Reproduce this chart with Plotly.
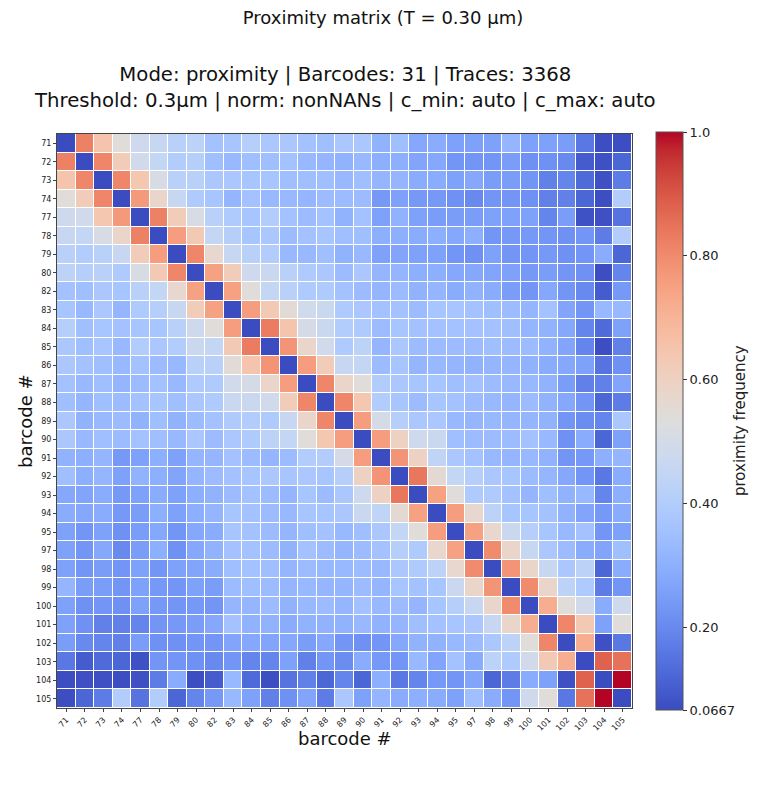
import numpy as np
import plotly.graph_objects as go

barcodes = [71, 72, 73, 74, 77, 78, 79, 80, 82, 83, 84, 85, 86, 87, 88, 89, 90,
            91, 92, 93, 94, 95, 97, 98, 99, 100, 101, 102, 103, 104, 105]
labels = [str(b) for b in barcodes]

diag_value = 0.0667

# lower triangle of the symmetric proximity matrix (row i, columns 0..i-1)
lower_rows = [
    [0.82],
    [0.65, 0.81],
    [0.54, 0.62, 0.81],
    [0.48, 0.49, 0.64, 0.77],
    [0.46, 0.45, 0.51, 0.58, 0.82],
    [0.42, 0.40, 0.42, 0.46, 0.62, 0.76],
    [0.43, 0.41, 0.42, 0.39, 0.51, 0.63, 0.81],
    [0.36, 0.35, 0.38, 0.37, 0.42, 0.45, 0.57, 0.75],
    [0.37, 0.33, 0.38, 0.32, 0.39, 0.41, 0.46, 0.62, 0.75],
    [0.41, 0.35, 0.37, 0.36, 0.37, 0.37, 0.42, 0.48, 0.54, 0.76],
    [0.38, 0.35, 0.37, 0.33, 0.40, 0.38, 0.40, 0.47, 0.45, 0.63, 0.83],
    [0.38, 0.36, 0.35, 0.33, 0.36, 0.34, 0.33, 0.42, 0.42, 0.55, 0.65, 0.78],
    [0.36, 0.33, 0.35, 0.32, 0.34, 0.36, 0.33, 0.39, 0.39, 0.49, 0.50, 0.58, 0.76],
    [0.35, 0.32, 0.35, 0.34, 0.36, 0.37, 0.35, 0.38, 0.39, 0.47, 0.47, 0.49, 0.62, 0.81],
    [0.38, 0.31, 0.33, 0.34, 0.31, 0.35, 0.31, 0.34, 0.36, 0.39, 0.40, 0.39, 0.46, 0.58, 0.81],
    [0.38, 0.33, 0.35, 0.34, 0.36, 0.35, 0.33, 0.38, 0.34, 0.38, 0.39, 0.43, 0.45, 0.54, 0.64, 0.76],
    [0.31, 0.30, 0.32, 0.24, 0.26, 0.30, 0.26, 0.32, 0.32, 0.36, 0.34, 0.32, 0.34, 0.40, 0.40, 0.50, 0.76],
    [0.35, 0.30, 0.32, 0.26, 0.31, 0.30, 0.27, 0.32, 0.34, 0.36, 0.37, 0.38, 0.37, 0.38, 0.37, 0.41, 0.60, 0.78],
    [0.28, 0.27, 0.29, 0.24, 0.26, 0.29, 0.26, 0.30, 0.31, 0.34, 0.36, 0.34, 0.32, 0.37, 0.34, 0.38, 0.48, 0.60, 0.84],
    [0.29, 0.28, 0.29, 0.24, 0.25, 0.30, 0.26, 0.30, 0.32, 0.37, 0.36, 0.34, 0.33, 0.37, 0.37, 0.38, 0.47, 0.44, 0.56, 0.75],
    [0.26, 0.23, 0.26, 0.22, 0.25, 0.28, 0.23, 0.28, 0.29, 0.37, 0.36, 0.34, 0.32, 0.35, 0.36, 0.33, 0.35, 0.38, 0.45, 0.54, 0.76],
    [0.26, 0.23, 0.28, 0.20, 0.25, 0.30, 0.22, 0.28, 0.31, 0.36, 0.36, 0.34, 0.31, 0.36, 0.34, 0.32, 0.34, 0.36, 0.41, 0.39, 0.57, 0.75],
    [0.26, 0.23, 0.25, 0.23, 0.26, 0.23, 0.26, 0.27, 0.29, 0.35, 0.36, 0.35, 0.32, 0.34, 0.33, 0.33, 0.34, 0.33, 0.38, 0.39, 0.43, 0.57, 0.80],
    [0.32, 0.25, 0.25, 0.23, 0.26, 0.24, 0.23, 0.26, 0.25, 0.34, 0.35, 0.34, 0.32, 0.33, 0.32, 0.32, 0.34, 0.32, 0.37, 0.36, 0.37, 0.47, 0.58, 0.78],
    [0.26, 0.22, 0.23, 0.22, 0.26, 0.24, 0.23, 0.24, 0.23, 0.32, 0.32, 0.34, 0.31, 0.33, 0.34, 0.32, 0.36, 0.33, 0.34, 0.32, 0.37, 0.41, 0.46, 0.58, 0.80],
    [0.26, 0.22, 0.18, 0.18, 0.19, 0.23, 0.24, 0.25, 0.28, 0.36, 0.31, 0.31, 0.29, 0.31, 0.31, 0.31, 0.33, 0.31, 0.32, 0.35, 0.36, 0.37, 0.38, 0.46, 0.58, 0.72],
    [0.25, 0.20, 0.19, 0.18, 0.25, 0.22, 0.22, 0.23, 0.23, 0.27, 0.28, 0.27, 0.28, 0.25, 0.28, 0.23, 0.22, 0.23, 0.28, 0.31, 0.31, 0.33, 0.34, 0.38, 0.43, 0.54, 0.81],
    [0.16, 0.10, 0.13, 0.12, 0.08, 0.23, 0.23, 0.22, 0.20, 0.23, 0.19, 0.19, 0.26, 0.18, 0.23, 0.21, 0.29, 0.24, 0.23, 0.33, 0.27, 0.36, 0.29, 0.43, 0.39, 0.49, 0.63, 0.72],
    [0.07, 0.075, 0.075, 0.07, 0.075, 0.17, 0.29, 0.07, 0.10, 0.33, 0.13, 0.07, 0.15, 0.18, 0.12, 0.19, 0.12, 0.30, 0.16, 0.19, 0.24, 0.23, 0.27, 0.12, 0.17, 0.29, 0.26, 0.075, 0.88],
    [0.07, 0.12, 0.17, 0.40, 0.15, 0.40, 0.12, 0.19, 0.24, 0.33, 0.26, 0.18, 0.22, 0.27, 0.17, 0.38, 0.26, 0.32, 0.29, 0.30, 0.29, 0.26, 0.35, 0.29, 0.23, 0.48, 0.54, 0.16, 0.85, 1.0],
]

c_min = 0.0667
c_max = 1.0
cbar_tickvals = [0.0667, 0.2, 0.4, 0.6, 0.8, 1.0]
cbar_ticktext = ["0.0667", "0.20", "0.40", "0.60", "0.80", "1.0"]

n = len(barcodes)
M = np.full((n, n), diag_value)
for i, row in enumerate(lower_rows, start=1):
    for j, v in enumerate(row):
        M[i, j] = v
        M[j, i] = v

cw = [(59, 76, 192), (68, 90, 204), (77, 104, 215), (87, 117, 225), (98, 130, 234),
      (108, 142, 241), (119, 154, 247), (130, 165, 251), (141, 176, 254), (152, 185, 255),
      (163, 194, 255), (174, 201, 253), (184, 208, 249), (194, 213, 244), (204, 217, 238),
      (213, 219, 230), (221, 221, 221), (229, 216, 209), (236, 211, 197), (241, 204, 185),
      (245, 196, 173), (247, 187, 160), (247, 177, 148), (247, 166, 135), (244, 154, 123),
      (241, 141, 111), (236, 127, 99), (229, 112, 88), (222, 96, 77), (213, 80, 66),
      (203, 62, 56), (192, 40, 47), (180, 4, 38)]
colorscale = [[k / (len(cw) - 1), "rgb(%d,%d,%d)" % c] for k, c in enumerate(cw)]

FONT = "DejaVu Sans"

fig = go.Figure(go.Heatmap(
    z=M, x=labels, y=labels,
    colorscale=colorscale, zmin=c_min, zmax=c_max,
    xgap=1, ygap=1,
    colorbar=dict(
        x=(656 - 57) / 575, xanchor="left", y=0.5, yanchor="middle",
        xpad=0, ypad=0,
        thickness=27, lenmode="pixels", len=578,
        outlinewidth=1, outlinecolor="#555",
        tickvals=cbar_tickvals, ticktext=cbar_ticktext,
        ticks="outside", ticklen=4, tickcolor="#333",
        tickfont=dict(family=FONT, size=13, color="#222"),
    ),
))

fig.update_layout(
    width=766, height=790,
    margin=dict(l=57, r=134, t=134, b=82, autoexpand=False),
    paper_bgcolor="white", plot_bgcolor="white",
    font=dict(family=FONT, color="#222"),
    title=dict(text="Proximity matrix (T = 0.30 µm)", x=0.5, xanchor="center",
               y=1 - 18 / 790, yanchor="middle", font=dict(family=FONT, size=18, color="#111")),
    showlegend=False,
    annotations=[
        dict(text="Mode: proximity | Barcodes: 31 | Traces: 3368<br>Threshold: 0.3µm | norm: nonNANs | c_min: auto | c_max: auto",
             x=0.5, y=1, xref="paper", yref="paper", xanchor="center", yanchor="bottom",
             yshift=20, showarrow=False, align="center",
             font=dict(family=FONT, size=19.7, color="#111")),
        dict(text="barcode #", x=0.5, y=0, xref="paper", yref="paper", xanchor="center",
             yanchor="middle", yshift=-30, showarrow=False,
             font=dict(family=FONT, size=18, color="#111")),
        dict(text="barcode #", x=0, y=0.5, xref="paper", yref="paper", xanchor="center",
             yanchor="middle", xshift=-32, textangle=-90, showarrow=False,
             font=dict(family=FONT, size=18, color="#111")),
        dict(text="proximity frequency", x=(740 - 57) / 575, y=0.5, xref="paper", yref="paper",
             xanchor="center", yanchor="middle", textangle=-90, showarrow=False,
             font=dict(family=FONT, size=15, color="#222")),
    ],
)

fig.update_xaxes(type="category", showline=True, mirror=True, linecolor="#444", linewidth=1,
                 ticks="outside", ticklen=3, tickcolor="#444", tickangle=-45,
                 tickfont=dict(family=FONT, size=8, color="#222"), showgrid=False, zeroline=False)
fig.update_yaxes(type="category", autorange="reversed", showline=True, mirror=True, linecolor="#444",
                 linewidth=1, ticks="outside", ticklen=3, tickcolor="#444",
                 tickfont=dict(family=FONT, size=8, color="#222"), showgrid=False, zeroline=False)

fig.write_html("out.html")
